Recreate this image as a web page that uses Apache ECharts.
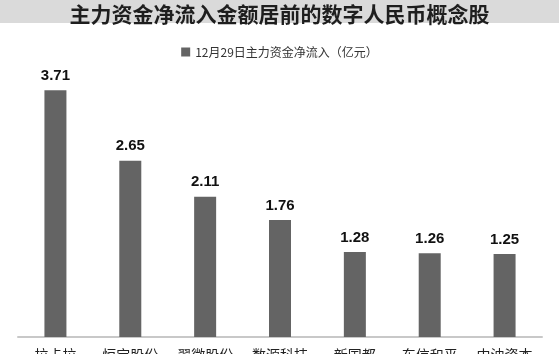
<!DOCTYPE html>
<html><head><meta charset="utf-8">
<script src="https://cdn.jsdelivr.net/npm/echarts@6/dist/echarts.min.js"></script>
<style>html,body{margin:0;padding:0;background:#fff}#c{width:559px;height:354px}</style>
</head><body><div id="c"></div>
<script>
const titleText = '主力资金净流入金额居前的数字人民币概念股';
const seriesName = '12月29日主力资金净流入（亿元）';
const categories = ['拉卡拉', '恒宝股份', '翠微股份', '数源科技', '新国都', '东信和平', '中油资本'];
const values = [3.71, 2.65, 2.11, 1.76, 1.28, 1.26, 1.25];

const chart = echarts.init(document.getElementById('c'));
chart.setOption({
  animation: false,
  backgroundColor: '#fff',
  graphic: [{
    type: 'rect', left: 0, top: 0,
    shape: { width: 559, height: 23 },
    style: { fill: '#dadada' }, z: -1
  }],
  title: {
    text: titleText, left: 'center', top: -1,
    textStyle: { fontFamily: 'Noto Sans CJK SC', fontSize: 21, fontWeight: 'bold', color: '#1e1e1e' }
  },
  legend: {
    top: 41, left: 'center',
    itemWidth: 9, itemHeight: 9, itemGap: 8,
    icon: 'rect',
    textStyle: { fontFamily: 'Noto Sans CJK SC', fontSize: 12, color: '#333' },
    data: [seriesName]
  },
  grid: { left: 18, right: 17, top: 71, bottom: 17, containLabel: false, outerBoundsMode: 'none' },
  xAxis: {
    type: 'category', data: categories,
    axisLine: { lineStyle: { color: '#c8c8c8', width: 2 } },
    axisTick: { show: false },
    axisLabel: { margin: 11, fontFamily: 'Noto Sans CJK SC', fontSize: 14, color: '#222', interval: 0 }
  },
  yAxis: { type: 'value', min: 0, max: 4, show: false, splitLine: { show: false } },
  series: [{
    name: seriesName, type: 'bar', data: values,
    barWidth: 22,
    itemStyle: { color: '#646464' },
    label: {
      show: true, position: 'top', distance: 7,
      fontFamily: 'Liberation Sans, Arial, sans-serif', fontSize: 15, fontWeight: 'bold', color: '#111',
      formatter: p => p.value.toFixed(2)
    }
  }]
});
</script></body></html>
